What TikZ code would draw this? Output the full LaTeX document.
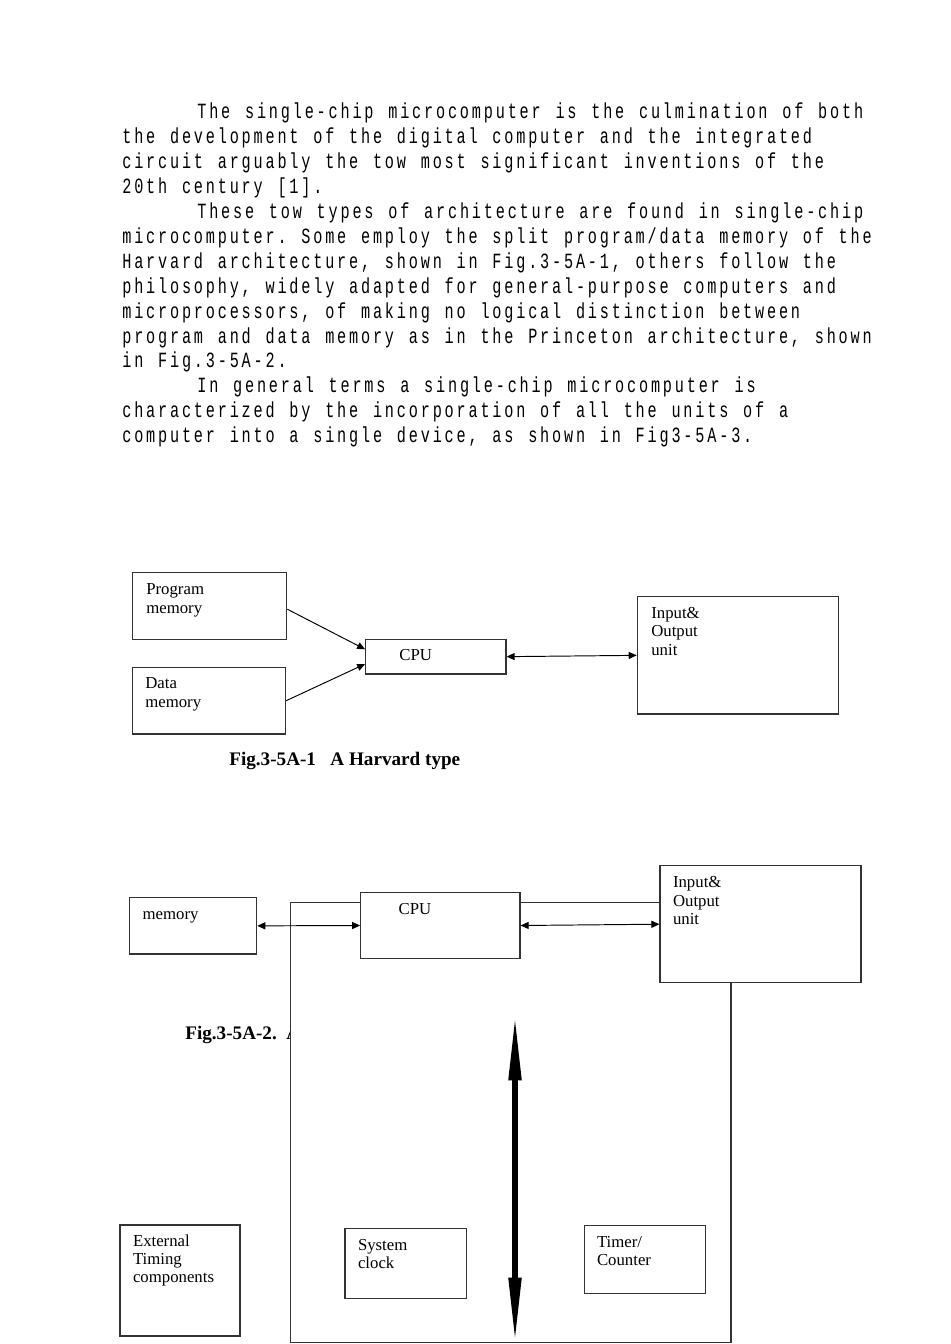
\documentclass[tikz,border=0pt]{standalone}
\usepackage{fontspec}
\setmainfont{Liberation Serif}
\newfontfamily\bodymono[FakeStretch=0.7]{Liberation Mono}
\ExplSyntaxOn
\NewDocumentCommand\monoline{m}{ \str_map_inline:nn {#1} { \makebox[7.48pt][l]{##1} } }
\ExplSyntaxOff
\usetikzlibrary{arrows.meta,fit}
\begin{document}
\begin{tikzpicture}[x=0.6264pt,y=-0.6264pt,
  box/.style={draw=black!80, line width=0.75pt, fill=white, inner sep=0pt},
  txt/.style={anchor=base west, inner sep=0pt, font=\fontsize{10.5}{12}\selectfont},
  figcap/.style={anchor=base west, inner sep=0pt, font=\fontsize{12}{14}\selectfont\bfseries},
  para/.style={anchor=base west, inner sep=0pt, font=\bodymono\fontsize{13.6}{16}\selectfont},
  arr/.style={line width=0.6pt, -{Triangle[length=5pt,width=4.4pt]}},
  darr/.style={line width=0.6pt, {Triangle[length=5pt,width=4.4pt]}-{Triangle[length=5pt,width=4.4pt]}},
  bus/.style={line width=3.3pt, {Triangle[length=41pt,width=7.5pt]}-{Triangle[length=41pt,width=7.5pt]}}]
\useasboundingbox (0,0) rectangle (950,1344);

% ---------- paragraph text ----------
\node[para] (l1)  at (197,118.9) {\monoline{The single-chip microcomputer is the culmination of both}};
\node[para] (l2)  at (122,143.8) {\monoline{the development of the digital computer and the integrated}};
\node[para] (l3)  at (122,168.7) {\monoline{circuit arguably the tow most significant inventions of the}};
\node[para] (l4)  at (122,193.6) {\monoline{20th century [1].}};
\node[para] (l5)  at (197,218.5) {\monoline{These tow types of architecture are found in single-chip}};
\node[para] (l6)  at (122,243.4) {\monoline{microcomputer. Some employ the split program/data memory of the}};
\node[para] (l7)  at (122,268.3) {\monoline{Harvard architecture, shown in Fig.3-5A-1, others follow the}};
\node[para] (l8)  at (122,293.2) {\monoline{philosophy, widely adapted for general-purpose computers and}};
\node[para] (l9)  at (122,318.1) {\monoline{microprocessors, of making no logical distinction between}};
\node[para] (l10) at (122,343.0) {\monoline{program and data memory as in the Princeton architecture, shown}};
\node[para] (l11) at (122,367.9) {\monoline{in Fig.3-5A-2.}};
\node[para] (l12) at (197,392.8) {\monoline{In general terms a single-chip microcomputer is}};
\node[para] (l13) at (122,417.7) {\monoline{characterized by the incorporation of all the units of a}};
\node[para] (l14) at (122,442.6) {\monoline{computer into a single device, as shown in Fig3-5A-3.}};

% ---------- Fig. 3-5A-1 ----------
\node[box, fit={(132.7,572.7) (286.7,639.3)}] (pm) {};
\node[box, fit={(132.3,667.3) (285.7,734)}] (dm) {};
\node[box, fit={(365.7,639.3) (506,674)}] (cpu) {};
\node[box, fit={(637.3,596.7) (838.3,714)}] (io) {};

\node[txt] (pmt1) at (146,594.3) {Program};
\node[txt] (pmt2) at (146,613.3) {memory};
\node[txt] (dmt1) at (145,688.3) {Data};
\node[txt] (dmt2) at (145,707.7) {memory};
\node[txt] (cput) at (399,660.7) {CPU};
\node[txt] (iot1) at (651,618.3) {Input\&};
\node[txt] (iot2) at (651,636.7) {Output};
\node[txt] (iot3) at (651,655) {unit};

\draw[arr] ([yshift=-2pt]pm.east) -- ([yshift=4.6pt]cpu.west);
\draw[arr] (dm.east) -- ([yshift=-4.6pt]cpu.west);
\draw[darr] (cpu.east) -- (io.west);

\node[figcap] (cap1) at (229,765) {Fig.3-5A-1\ \ \ A Harvard type};

% ---------- Fig. 3-5A-2 / 3-5A-3 ----------
\node[figcap] (cap2) at (185,1039.3) {Fig.3-5A-2.\ \ A};
\node[box, fit={(290.7,902.7) (731,1342.8)}] (chip) {};

\node[box, fit={(129.3,897.7) (256.7,954)}] (mem) {};
\node[box, fit={(360.7,892.7) (520,958.3)}] (cpu2) {};
\node[box, fit={(660,865.7) (861,982.7)}] (io2) {};
\node[box, fit={(120,1225) (240,1336)}] (ext) {};
\node[box, fit={(345,1228.3) (466.7,1298.3)}] (clk) {};
\node[box, fit={(584.3,1225.7) (705.7,1293.3)}] (tmr) {};

\node[txt] (memt) at (142.3,919) {memory};
\node[txt] (cpu2t) at (398.3,914) {CPU};
\node[txt] (io2t1) at (672.7,887.7) {Input\&};
\node[txt] (io2t2) at (672.7,906) {Output};
\node[txt] (io2t3) at (672.7,924.3) {unit};
\node[txt] (ext1) at (132.7,1246) {External};
\node[txt] (ext2) at (132.7,1264.3) {Timing};
\node[txt] (ext3) at (132.7,1282.7) {components};
\node[txt] (clk1) at (357.7,1250) {System};
\node[txt] (clk2) at (357.7,1268.3) {clock};
\node[txt] (tmr1) at (596.7,1247.3) {Timer/};
\node[txt] (tmr2) at (596.7,1265.7) {Counter};

\draw[darr] (mem.east) -- (cpu2.west);
\draw[darr] (cpu2.east) -- (io2.west);

\coordinate (busT) at (515,1015);
\coordinate (busB) at (515,1343);
\draw[bus] (busT) -- (busB);
\end{tikzpicture}
\end{document}
